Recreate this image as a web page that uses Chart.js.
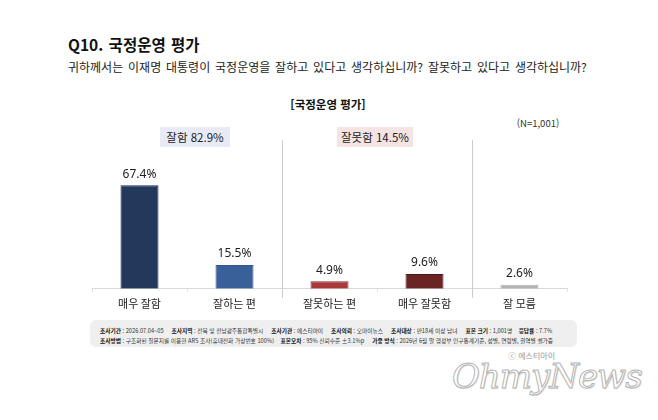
<!DOCTYPE html>
<html lang="ko">
<head>
<meta charset="utf-8">
<script src="https://cdn.jsdelivr.net/npm/chart.js@4"></script>
<style>
  html, body { margin: 0; padding: 0; background: #fff; }
  body { width: 658px; height: 420px; position: relative; overflow: hidden;
         font-family: "Noto Sans CJK KR", "Noto Sans", sans-serif; color: #111; }
  .abs { position: absolute; white-space: nowrap; }
  #title { left: 68px; top: 33px; font-size: 15.5px; font-weight: 700; word-spacing: 1px; }
  #question { left: 68px; top: 58px; font-size: 12px; color: #222; word-spacing: 1.5px; }
  #chartTitle { left: 0; width: 656px; top: 96px; text-align: center; font-size: 11.5px; font-weight: 700; }
  .badge { top: 127px; height: 20px; line-height: 20px; font-size: 11.5px; text-align: center; color: #222; }
  #goodBadge { left: 160px; width: 70px; background: #e8ebf6; }
  #badBadge { left: 337px; width: 76px; background: #f6e3e3; }
  #nCount { left: 510px; width: 56px; top: 116px; text-align: center; font-size: 9.5px; color: #333; }
  #chartWrap { position: absolute; left: 0; top: 130px; width: 658px; height: 185px; }
  #footer { left: 90px; top: 320px; width: 487px; height: 27px; background: #efefef; border-radius: 6px;
            font-size: 5.7px; color: #333; padding: 0; }
  #footer div { position: absolute; left: 10px; }
  #footer b { font-weight: 700; color: #111; }
  #copy { left: 508px; top: 350px; font-size: 8px; color: #999; }
  #logo { left: 452px; top: 356px; font-family: "DejaVu Serif", serif; font-style: italic; font-size: 34px;
          color: #fff; -webkit-text-stroke: 1px #b5b5b5; letter-spacing: -1px;
          text-shadow: 1px 1px 1px #ddd; }
</style>
</head>
<body>
<div class="abs" id="title">Q10. 국정운영 평가</div>
<div class="abs" id="question">귀하께서는 이재명 대통령이 국정운영을 잘하고 있다고 생각하십니까? 잘못하고 있다고 생각하십니까?</div>
<div class="abs" id="chartTitle">[국정운영 평가]</div>
<div class="abs badge" id="goodBadge">잘함 82.9%</div>
<div class="abs badge" id="badBadge">잘못함 14.5%</div>
<div class="abs" id="nCount">(N=1,001)</div>
<div id="chartWrap"><canvas id="chart"></canvas></div>
<div class="abs" id="footer">
  <div style="top:6px"><b>조사기간</b> : 2026.07.04~05 &nbsp;&nbsp;&nbsp; <b>조사지역</b> : 전북 및 전남광주통합특별시 &nbsp;&nbsp;&nbsp; <b>조사기관</b> : 에스티아이 &nbsp;&nbsp;&nbsp; <b>조사의뢰</b> : 오마이뉴스 &nbsp;&nbsp;&nbsp; <b>조사대상</b> : 만18세 이상 남녀 &nbsp;&nbsp;&nbsp; <b>표본 크기</b> : 1,001명 &nbsp;&nbsp; <b>응답률</b> : 7.7%</div>
  <div style="top:16px"><b>조사방법</b> : 구조화된 질문지를 이용한 ARS 조사(휴대전화 가상번호 100%) &nbsp;&nbsp; <b>표본오차</b> : 95% 신뢰수준 ±3.1%p &nbsp;&nbsp;&nbsp; <b>가중 방식</b> : 2026년 6월 말 행정부 인구통계기준, 성별, 연령별, 권역별 셀가중</div>
</div>
<div class="abs" id="copy">ⓒ 에스티아이</div>
<div class="abs" id="logo">OhmyNews</div>

<script>
const categories = ['매우 잘함', '잘하는 편', '잘못하는 편', '매우 잘못함', '잘 모름'];
const shares = [67.4, 15.5, 4.9, 9.6, 2.6];
const barColors = ['#22395c', '#3a609a', '#a83a3a', '#6b2424', '#b3b3b3'];
const barBorders = ['#1b2f4d', '#33568b', '#8e2e2e', '#4e1717', '#b3b3b3'];

// value labels above bars + the group dividers
const labelPlugin = {
  id: 'barLabels',
  afterDatasetsDraw(chart) {
    const ctx = chart.ctx;
    const meta = chart.getDatasetMeta(0);
    ctx.save();
    ctx.font = '12px "Noto Sans", "Liberation Sans", sans-serif';
    ctx.fillStyle = '#222';
    ctx.textAlign = 'center';
    ctx.textBaseline = 'bottom';
    meta.data.forEach((bar, i) => {
      ctx.fillText(shares[i].toFixed(1) + '%', bar.x, bar.y - 5);
    });
    ctx.restore();
  },
  afterDraw(chart) {
    const ctx = chart.ctx;
    const x = chart.scales.x;
    const bottom = chart.chartArea.bottom;
    ctx.save();
    ctx.strokeStyle = '#cccccc';
    ctx.lineWidth = 1;
    [[1, 2], [3, 4]].forEach(([a, b]) => {
      const px = Math.round((x.getPixelForValue(a) + x.getPixelForValue(b)) / 2) + 0.5;
      ctx.beginPath();
      ctx.moveTo(px, 10);
      ctx.lineTo(px, bottom + 9);
      ctx.stroke();
    });
    ctx.restore();
  }
};

new Chart(document.getElementById('chart'), {
  type: 'bar',
  data: {
    labels: categories,
    datasets: [{
      data: shares,
      backgroundColor: barColors,
      borderColor: barBorders,
      borderWidth: 1,
      barPercentage: 0.4,
      categoryPercentage: 1
    }]
  },
  options: {
    responsive: true,
    maintainAspectRatio: false,
    animation: false,
    layout: { padding: { left: 92, right: 91, top: 36, bottom: 0 } },
    scales: {
      y: { display: false, min: 0, max: 80 },
      x: {
        grid: { display: true, offset: true, drawOnChartArea: false, tickLength: 3, color: '#e2e2e2' },
        border: { display: true, color: '#d9d9d9', width: 1 },
        ticks: { color: '#222', font: { size: 11, family: '"Noto Sans CJK KR", sans-serif' }, padding: 5 }
      }
    },
    plugins: { legend: { display: false }, tooltip: { enabled: false } }
  },
  plugins: [labelPlugin]
});
</script>
</body>
</html>
